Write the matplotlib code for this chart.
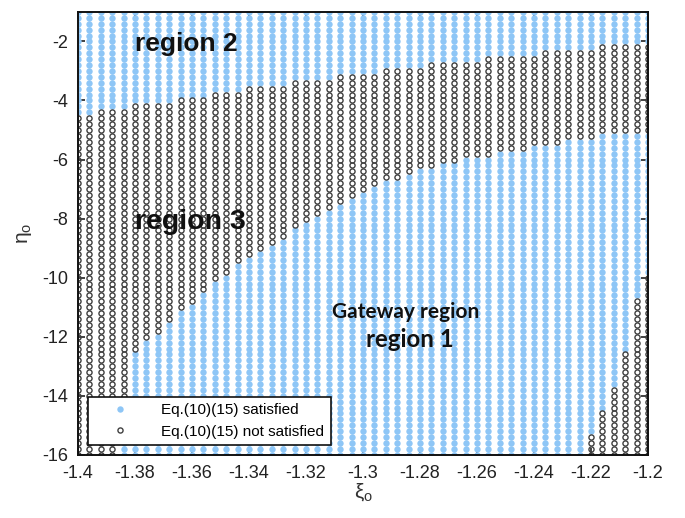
import numpy as np
import matplotlib.pyplot as plt

# sampling grid of the (xi_o, eta_o) sweep
xi_grid = np.linspace(-1.4, -1.2, 51)
eta_grid = np.linspace(-16.0, -1.0, 76)

# per column of xi: top-most eta that fails the test (upper edge of region 3)
upper_black = [-4.6, -4.6, -4.4, -4.4, -4.4, -4.2, -4.2, -4.2, -4.2, -4.0,
               -4.0, -4.0, -3.8, -3.8, -3.8, -3.6, -3.6, -3.6, -3.6, -3.4,
               -3.4, -3.4, -3.4, -3.2, -3.2, -3.2, -3.2, -3.0, -3.0, -3.0,
               -3.0, -2.8, -2.8, -2.8, -2.8, -2.8, -2.6, -2.6, -2.6, -2.6,
               -2.6, -2.4, -2.4, -2.4, -2.4, -2.4, -2.2, -2.2, -2.2, -2.2,
               -2.2]
# bottom-most eta that fails the test (lower edge of region 3)
lower_black = [-16.0, -16.0, -16.0, -16.0, -14.0, -12.4, -12.0, -11.8, -11.4, -11.0,
               -10.8, -10.4, -10.0, -9.8, -9.4, -9.2, -9.0, -8.8, -8.6, -8.2,
               -8.0, -7.8, -7.6, -7.4, -7.2, -7.0, -6.8, -6.6, -6.6, -6.4,
               -6.2, -6.2, -6.0, -6.0, -5.8, -5.8, -5.8, -5.6, -5.6, -5.6,
               -5.4, -5.4, -5.4, -5.2, -5.2, -5.2, -5.0, -5.0, -5.0, -5.0,
               -5.0]
# failing corner at the lower right: eta at and below this value fails
corner_black = [np.nan] * 45 + [-15.4, -14.6, -13.8, -12.6, -10.8, -10.0]

ok_x, ok_y, bad_x, bad_y = [], [], [], []
for i, x in enumerate(xi_grid):
    for y in eta_grid:
        bad = lower_black[i] - 1e-6 <= y <= upper_black[i] + 1e-6
        if not np.isnan(corner_black[i]) and y <= corner_black[i] + 1e-6:
            bad = True
        if bad:
            bad_x.append(x)
            bad_y.append(y)
        else:
            ok_x.append(x)
            ok_y.append(y)

plt.rcParams['font.family'] = ['Liberation Sans', 'DejaVu Sans']
plt.rcParams['axes.unicode_minus'] = False
plt.rcParams['mathtext.fontset'] = 'custom'
plt.rcParams['mathtext.rm'] = 'Liberation Sans'
plt.rcParams['mathtext.it'] = 'Liberation Sans'

fig = plt.figure(figsize=(6.85, 5.18), dpi=100)
ax = fig.add_axes([0.114, 0.122, 0.832, 0.855])

ax.plot(ok_x, ok_y, 'o', ms=4.6, mfc='#8ec6f6', mec='#8ec6f6', mew=0,
        ls='none', label='Eq.(10)(15) satisfied')
ax.plot(bad_x, bad_y, 'o', ms=3.7, mfc='none', mec='#404040', mew=1.0,
        ls='none', label='Eq.(10)(15) not satisfied')

ax.set_xlim(-1.4, -1.2)
ax.set_ylim(-16, -1)
ax.set_xticks(np.arange(-1.4, -1.199, 0.02))
ax.set_xticklabels(['-1.4', '-1.38', '-1.36', '-1.34', '-1.32', '-1.3',
                    '-1.28', '-1.26', '-1.24', '-1.22', '-1.2'])
ax.set_yticks(np.arange(-16, -1, 2))
ax.tick_params(direction='in', length=5, width=1.2, top=True, right=True,
               labelsize=13, colors='#222222', pad=7)
for s in ax.spines.values():
    s.set_linewidth(1.4)
    s.set_color('#111111')

ax.set_xlabel(r'$\xi_\mathrm{o}$', fontsize=15, color='#333333', labelpad=0)
ax.set_ylabel(r'$\eta_\mathrm{o}$', fontsize=15, color='#333333', labelpad=6)

ax.text(-1.3621, -2.1, 'region 2', fontsize=19, fontweight='bold',
        ha='center', va='center', color='#111111')
ax.text(-1.3605, -8.1, 'region 3', fontsize=20.5, fontweight='bold',
        ha='center', va='center', color='#111111')
ax.text(-1.2849, -11.15, 'Gateway region', fontsize=15, fontweight='bold',
        family='Lato', ha='center', va='center', color='#111111')
ax.text(-1.2835, -12.1, 'region 1', fontsize=17.3, fontweight='bold',
        family='Lato', ha='center', va='center', color='#111111')

leg = ax.legend(loc='lower left', bbox_to_anchor=(0.0175, 0.0226),
                borderaxespad=0, fontsize=11, fancybox=False, framealpha=1,
                edgecolor='#111111', handletextpad=1.0, borderpad=0.4,
                handlelength=3.4)
leg.get_frame().set_linewidth(1.2)

fig.savefig('out.png', dpi=100)
